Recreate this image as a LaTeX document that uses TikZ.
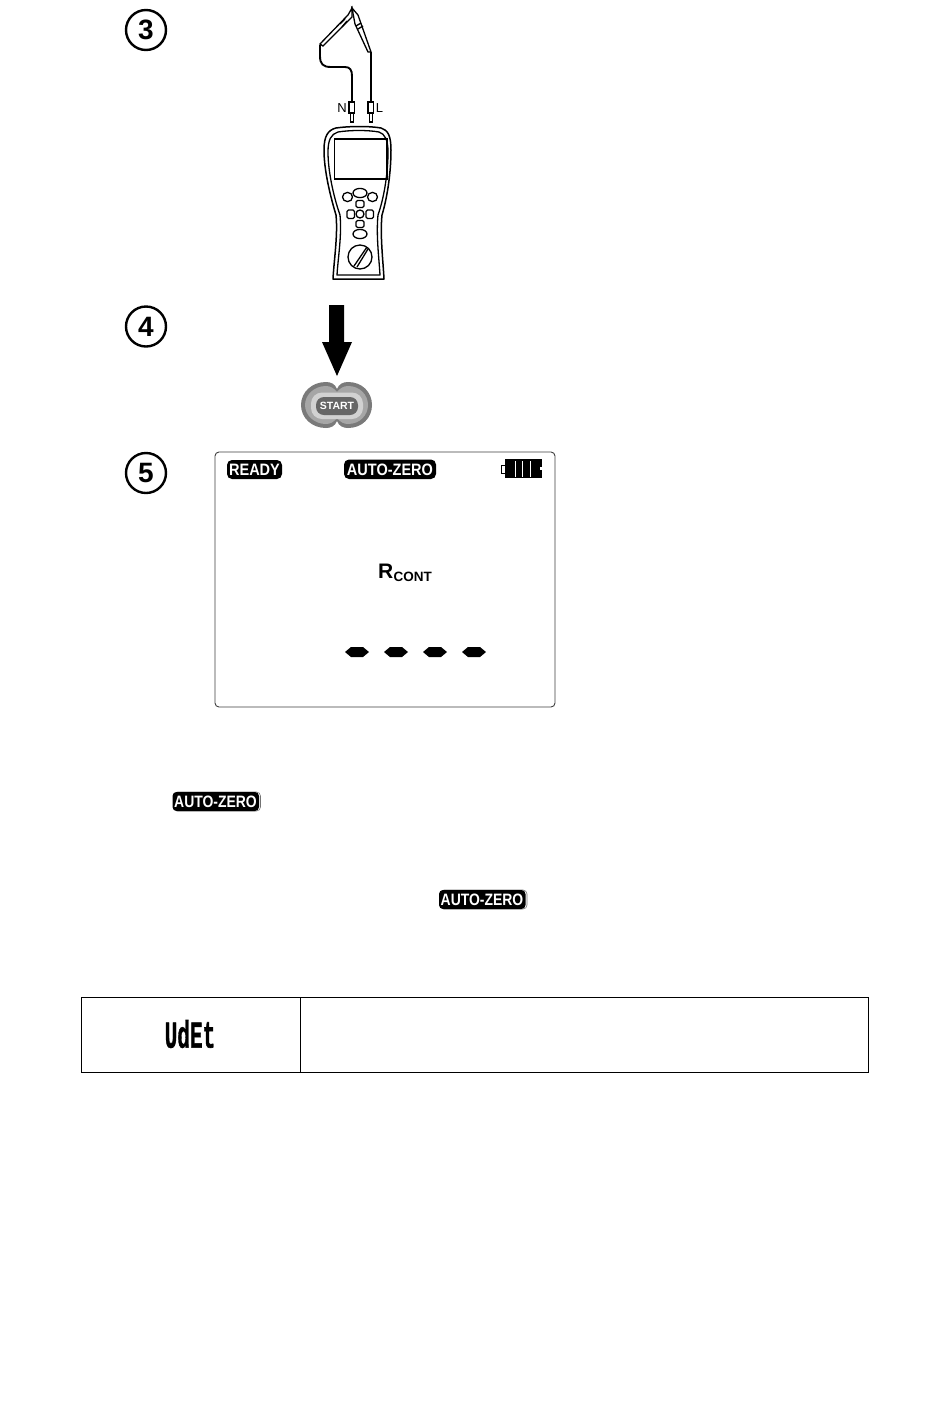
\documentclass[tikz,border=0pt]{standalone}
\usepackage{fontspec}
\setmainfont{Liberation Sans}
\newfontfamily\segfont[FakeBold=1.5,BoldFont={Liberation Mono Bold},BoldFeatures={FakeBold=1.5}]{Liberation Mono}
\tikzset{
  x=1pt,y=-1pt,
  stepnum/.style={circle,draw=black,line width=2.4pt,minimum size=40pt,inner sep=0pt,font=\fontsize{28}{28}\selectfont\bfseries},
  badgetext/.style={text=white,inner sep=0pt,font=\fontsize{16.5}{17}\selectfont\bfseries,xscale=.88},
  line/.style={draw=black,line width=1.3pt},
  wire/.style={draw=black,line width=1.9pt},
  key/.style={draw=black,line width=1.3pt,fill=white},
  dashmark/.style={fill=black,draw=none},
}
\newcommand{\autobadge}[3]{%
  \draw[draw=black!55,rounded corners=4pt,line width=.6pt] (#1+1,#2) rectangle (#1+88,#2+19);
  \fill[black,rounded corners=4pt] (#1,#2) rectangle (#1+86.5,#2+19);
  \node[badgetext,xscale=.96] (#3) at (#1+43,#2+9.7) {AUTO-ZERO};
}
\newcommand{\dashhex}[1]{\fill[dashmark] (#1-12,652) -- (#1-6,647) -- (#1+6,647) -- (#1+12,652) -- (#1+6,657) -- (#1-6,657) -- cycle;}
\begin{document}
\begin{tikzpicture}
\useasboundingbox (0,0) rectangle (950,1401);
\fill[white] (0,0) rectangle (950,1401);
% step numbers
\node[stepnum] (s3) at (146,30) {3};
\node[stepnum] (s4) at (146,326.5) {4};
\node[stepnum] (s5) at (146,473) {5};
% test leads
\fill[white,line] (352,8) -- (348,15) -- (320,44) -- (323,46) -- (352,17) -- cycle;
\draw[line] (340,24) -- (345,19) (342,27) -- (347,21);
\fill[white,line] (352,8) -- (358,15) -- (371,52) -- (368,52) -- (355,24) -- cycle;
\draw[line] (356,26) -- (361,23) (358,29) -- (363,26);
\draw[wire] (320,45) -- (320,56) .. controls (320,64) and (323,67) .. (331,67) -- (345,67) .. controls (350,67) and (352,70) .. (352,76) -- (352,102);
\draw[wire] (371,52) -- (371,102);
\draw[key] (349,102) rectangle (354.5,113);
\draw[key] (368,102) rectangle (373.5,113);
\draw[key] (350.5,113) rectangle (353.5,122);
\draw[key] (369.5,113) rectangle (372.5,122);
\node[inner sep=0pt,font=\fontsize{13}{13}\selectfont] (lblN) at (342,108) {N};
\node[inner sep=0pt,font=\fontsize{13}{13}\selectfont] (lblL) at (379.5,108) {L};
% meter
\draw[line,line width=1.5pt,line join=round]
  (336,128) .. controls (350,126) and (370,126) .. (381,128)
  .. controls (388,130) and (391,136) .. (391,150)
  .. controls (391,170) and (388,195) .. (382,215)
  .. controls (380,235) and (383,260) .. (384,279)
  -- (333,279)
  .. controls (334,260) and (338,235) .. (336,215)
  .. controls (330,195) and (324,170) .. (324,150)
  .. controls (324,136) and (328,130) .. (336,128) -- cycle;
\draw[line,line join=round]
  (338,132) .. controls (350,130) and (368,130) .. (379,132)
  .. controls (385,134) and (388,140) .. (388,152)
  .. controls (388,170) and (385,195) .. (378,215)
  .. controls (376,235) and (379,258) .. (380,275)
  -- (337,275)
  .. controls (338,258) and (342,235) .. (340,215)
  .. controls (333,195) and (328,170) .. (328,152)
  .. controls (328,140) and (331,134) .. (338,132) -- cycle;
\draw[line,line width=1.5pt] (334.5,139) rectangle (387,179);
\draw[key] (360,193) ellipse [x radius=7,y radius=4.6];
\draw[key] (347.5,197) ellipse [x radius=5,y radius=4.6];
\draw[key] (372.5,197) ellipse [x radius=5,y radius=4.6];
\draw[key,rounded corners=1.5pt] (356,200.5) rectangle (364,207.5);
\draw[key,rounded corners=1.5pt] (347,210) rectangle (354.5,218.5);
\draw[key,rounded corners=1.5pt] (366,210) rectangle (373.5,218.5);
\draw[key,rounded corners=1.5pt] (356,220.5) rectangle (364,227.5);
\draw[key] (360,214) circle [radius=4];
\draw[key] (360,234) ellipse [x radius=7,y radius=4.6];
\draw[key] (360,257) circle [radius=12];
\draw[line] (354,266) -- (367,247) (357,267) -- (368,249);
% big arrow
\fill[black] (329,305) -- (344,305) -- (344,342) -- (352,342) -- (337,376) -- (322,342) -- (329,342) -- cycle;
% start key
\fill[black!52] (337,389) .. controls (335,384) and (331,382) .. (326,382) .. controls (312,382) and (301,392) .. (301,405) .. controls (301,418) and (312,428) .. (326,428) .. controls (331,428) and (335,426) .. (337,421) .. controls (339,426) and (343,428) .. (348,428) .. controls (362,428) and (372,418) .. (372,405) .. controls (372,392) and (362,382) .. (348,382) .. controls (343,382) and (339,384) .. (337,389) -- cycle;
\fill[black!35] (337,392) .. controls (334,388) and (330,386) .. (326,386) .. controls (314,386) and (305,395) .. (305,405) .. controls (305,415) and (314,424) .. (326,424) .. controls (330,424) and (334,422) .. (337,418) .. controls (340,422) and (344,424) .. (348,424) .. controls (360,424) and (368,415) .. (368,405) .. controls (368,395) and (360,386) .. (348,386) .. controls (344,386) and (340,388) .. (337,392) -- cycle;
\fill[black!18,rounded corners=11pt] (311,392.5) rectangle (363,419);
\fill[black!60,rounded corners=8pt] (316,397) rectangle (358,415);
\node[inner sep=0pt,text=white,font=\fontsize{10.5}{10.5}\selectfont\bfseries] (start) at (337,405.5) {START};
% display
\draw[draw=black!75,line width=.9pt,rounded corners=4pt] (215,452) rectangle (555,707);
\fill[black,rounded corners=5pt] (227,460) rectangle (282,479);
\node[badgetext] (ready) at (254.5,469.7) {READY};
\fill[black,rounded corners=5pt] (344,459.5) rectangle (436,479);
\node[badgetext] (az1) at (390,469.7) {AUTO-ZERO};
% battery
\fill[black] (505,459) rectangle (542,478);
\draw[black,line width=1pt,fill=white] (501.5,465.5) rectangle (505,473);
\fill[white] (514.5,461) rectangle (515.8,476.5);
\fill[white] (522,461) rectangle (523.3,476.5);
\fill[white] (529.5,461) rectangle (530.8,476.5);
\fill[white] (540,467) rectangle (542,470);
% reading
\node[inner sep=0pt,anchor=base west,font=\fontsize{21}{21}\selectfont\bfseries] (rr) at (378,578) {R};
\node[inner sep=0pt,anchor=base west,font=\fontsize{13.5}{13}\selectfont\bfseries] (rc) at (393.5,581) {CONT};
\dashhex{357}\dashhex{396}\dashhex{435}\dashhex{474}
% inline badges
\autobadge{172.5}{792}{az2}
\autobadge{439}{890}{az3}
% table
\draw[black,line width=.9pt] (81,997) rectangle (868,1072);
\draw[black,line width=.9pt] (300,997) -- (300,1072);
\node[inner sep=0pt,xscale=.62,yscale=1.12,font=\fontsize{34}{34}\selectfont\segfont\bfseries] (udet) at (190,1034) {UdEt};
\end{tikzpicture}
\end{document}
